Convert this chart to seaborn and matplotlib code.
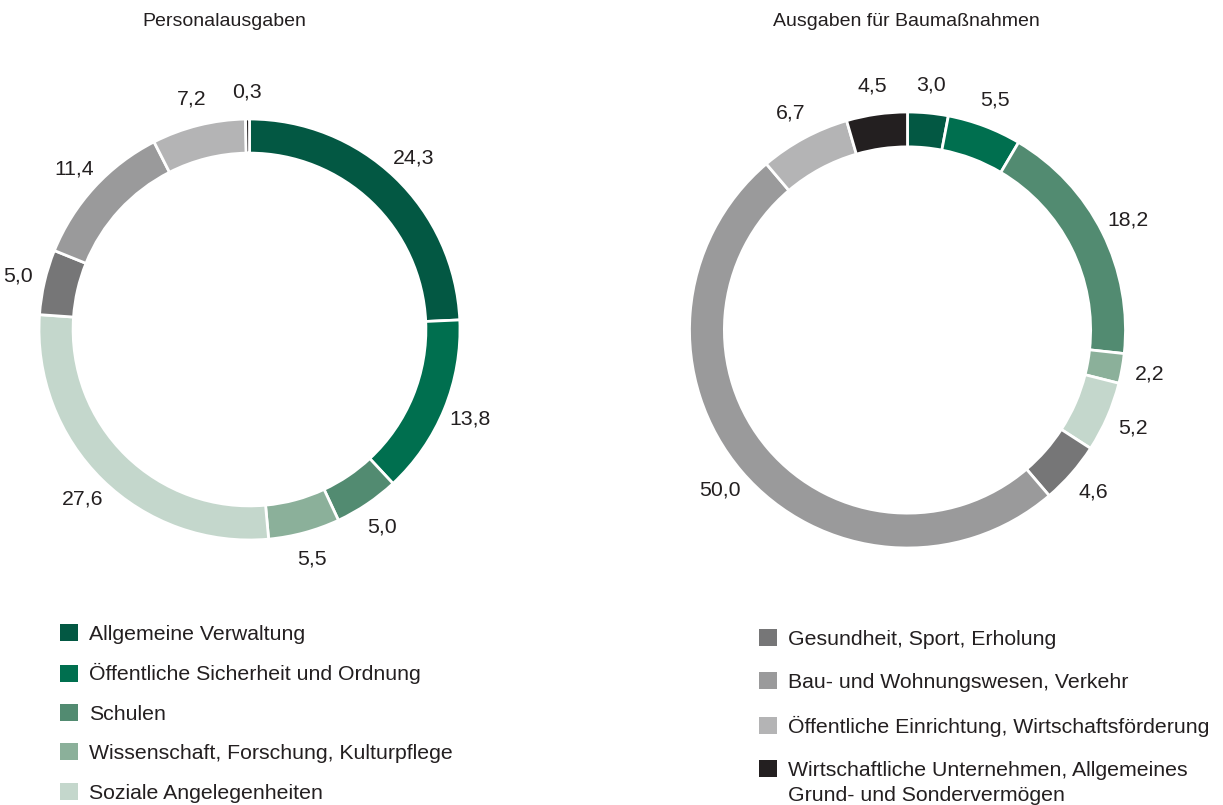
"""Donut charts: Personalausgaben und Ausgaben für Baumaßnahmen."""

import matplotlib.pyplot as plt
from matplotlib.patches import Patch
import numpy as np
import seaborn as sns

categories = [
    "Allgemeine Verwaltung",
    "Öffentliche Sicherheit und Ordnung",
    "Schulen",
    "Wissenschaft, Forschung, Kulturpflege",
    "Soziale Angelegenheiten",
    "Gesundheit, Sport, Erholung",
    "Bau- und Wohnungswesen, Verkehr",
    "Öffentliche Einrichtung, Wirtschaftsförderung",
    "Wirtschaftliche Unternehmen, Allgemeines",
]
last_label_line2 = "Grund- und Sondervermögen"
colors = [
    "#035843", "#006f4f", "#528b71", "#8bb09a", "#c4d7cc",
    "#767677", "#9a9a9b", "#b4b4b5", "#231f20",
]
personal = [24.3, 13.8, 5.0, 5.5, 27.6, 5.0, 11.4, 7.2, 0.3]
bau = [3.0, 5.5, 18.2, 2.2, 5.2, 4.6, 50.0, 6.7, 4.5]

TEXT = "#231f20"
W, H = 1223, 805

sns.set_theme(style="white")
plt.rcParams["font.family"] = ["Liberation Sans", "DejaVu Sans"]

fig = plt.figure(figsize=(W / 100, H / 100), dpi=100)


def donut(cx, cy, r, values, ring, title, title_x):
    ax = fig.add_axes([(cx - r) / W, (H - cy - r) / H, 2 * r / W, 2 * r / H])
    wedges, _ = ax.pie(
        values,
        colors=colors,
        startangle=90,
        counterclock=False,
        radius=1,
        wedgeprops=dict(width=ring, edgecolor="white", linewidth=2),
    )
    for wedge, value in zip(wedges, values):
        mid = np.deg2rad((wedge.theta1 + wedge.theta2) / 2)
        ax.text(
            1.13 * np.cos(mid), 1.13 * np.sin(mid),
            f"{value:.1f}".replace(".", ","),
            ha="center", va="center", fontsize=15.3, color=TEXT,
        )
    ax.set_xlim(-1, 1)
    ax.set_ylim(-1, 1)
    ax.axis("off")
    fig.text(title_x / W, 1 - 22 / H, title, ha="center", va="center",
             fontsize=14, color=TEXT)


donut(249.5, 329.5, 210.5, personal, 0.162, "Personalausgaben", 224)
donut(907.5, 330, 218, bau, 0.16, "Ausgaben für Baumaßnahmen", 906)

handles = [Patch(facecolor=c, edgecolor="none") for c in colors]
legend_style = dict(
    loc="upper left", frameon=False, fontsize=15.3, handlelength=0.85,
    handleheight=0.85, handletextpad=0.52, borderpad=0, borderaxespad=0,
    labelcolor=TEXT,
)
fig.legend(handles[:5], categories[:5], bbox_to_anchor=(60 / W, 1 - 624 / H),
           labelspacing=0.92, **legend_style)
right_legend = fig.legend(handles[5:], categories[5:],
                          bbox_to_anchor=(759 / W, 1 - 629 / H),
                          labelspacing=1.11, **legend_style)

# second line of the last entry, set just below its first line
fig.canvas.draw()
last = right_legend.get_texts()[-1]
box = last.get_window_extent().transformed(fig.transFigure.inverted())
fig.text(box.x0, box.y0 - 6 / H, last_label_line2, ha="left", va="top",
         fontsize=15.3, color=TEXT)

fig.savefig("out.png", dpi=100)
plt.close(fig)
